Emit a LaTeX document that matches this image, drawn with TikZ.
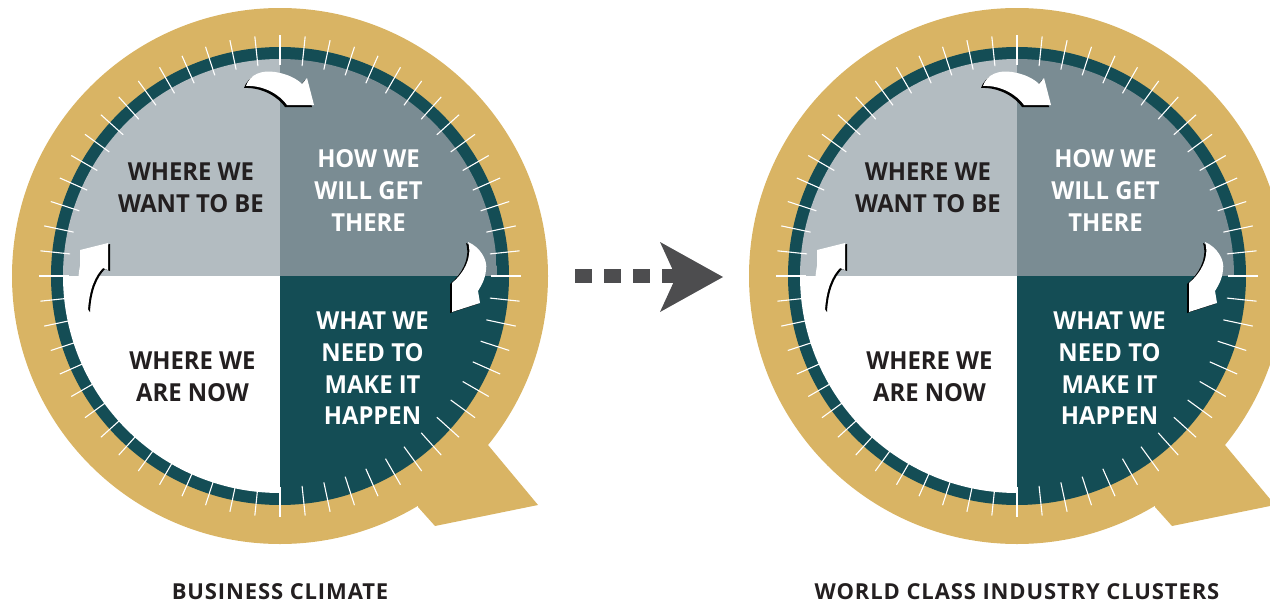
\documentclass[tikz,border=0pt]{standalone}
\usepackage{fontspec}
\setmainfont{Open Sans}
\newfontfamily\qmainfont[FakeStretch=0.96]{Open Sans}
\newfontfamily\qcapfont[LetterSpace=4]{Open Sans}
\definecolor{qgold}{HTML}{D9B464}
\definecolor{qteal}{HTML}{144D55}
\definecolor{qlight}{HTML}{B3BCC1}
\definecolor{qmid}{HTML}{7A8C93}
\definecolor{qtext}{HTML}{231F20}
\definecolor{qarrow}{HTML}{4D4D4F}
\tikzset{
  qlabel/.style={align=center, inner sep=0pt, font=\qmainfont\fontsize{24.8}{31.6}\selectfont\bfseries},
  qcaption/.style={inner sep=0pt, text=qtext, font=\qcapfont\fontsize{22}{24}\selectfont\bfseries},
  qtick/.style={white, line width=1.1pt},
  qshadow/.style={fill=black},
  qcurl/.style={fill=white}
}
\newcommand\qwheel[2]{%
\begin{scope}[shift={(#1,0)}]
  \coordinate (#2c) at (280,276);
  % gold disc with tail
  \fill[qgold] (#2c) circle (268);
  \fill[qgold] (488,445) -- (538,505) -- (435,526) -- (418,507) -- (420,420) -- cycle;
  % teal ring
  \fill[qteal] (#2c) circle (229);
  % quadrants
  \begin{scope}
    \clip (#2c) circle (217);
    \fill[qlight] (63,59) rectangle (280,276);
    \fill[qmid] (280,59) rectangle (497,276);
    \fill[qteal] (280,276) rectangle (497,493);
    \fill[white] (63,276) rectangle (280,493);
  \end{scope}
  % ticks
  \foreach \a in {0,6,...,354}
    \draw[qtick] (#2c) ++(\a:211) -- ++(\a:30);
  % curved arrows: top
  \fill[qshadow, shift={(-2,2)}] (246,86) .. controls (250,74) and (262,70) .. (275,72) .. controls (288,74) and (297,79) .. (302,84) -- (307,78) -- (314,105) -- (287,105) .. controls (281,96) and (265,85) .. (246,86) -- cycle;
  \fill[qcurl] (246,86) .. controls (250,74) and (262,70) .. (275,72) .. controls (288,74) and (297,79) .. (302,84) -- (307,78) -- (314,105) -- (287,105) .. controls (281,96) and (265,85) .. (246,86) -- cycle;
  % right
  \fill[qshadow, shift={(-2,1)}] (468,242) .. controls (480,247) and (488,260) .. (486,270) .. controls (485,280) and (481,286) .. (478,291) -- (480,303) -- (452,312) -- (452,283) .. controls (463,274) and (473,258) .. (468,242) -- cycle;
  \fill[qcurl] (468,242) .. controls (480,247) and (488,260) .. (486,270) .. controls (485,280) and (481,286) .. (478,291) -- (480,303) -- (452,312) -- (452,283) .. controls (463,274) and (473,258) .. (468,242) -- cycle;
  % left
  \fill[qshadow, shift={(2,1)}] (80,250) -- (108,243) -- (108,270) -- (103,268) .. controls (95,276) and (89,290) .. (88,311) .. controls (80,302) and (76,285) .. (80,266) -- cycle;
  \fill[qcurl] (80,250) -- (108,243) -- (108,270) -- (103,268) .. controls (95,276) and (89,290) .. (88,311) .. controls (80,302) and (76,285) .. (80,266) -- cycle;
  % labels
  \node[qlabel, text=qtext] (#2want) at (191,187.5) {WHERE WE\\WANT TO BE};
  \node[qlabel, text=white] (#2how) at (368.5,190.5) {HOW WE\\WILL GET\\THERE};
  \node[qlabel, text=qtext] (#2now) at (192.5,376.5) {WHERE WE\\ARE NOW};
  \node[qlabel, text=white] (#2need) at (372.5,368.5) {WHAT WE\\NEED TO\\MAKE IT\\HAPPEN};
\end{scope}}
\begin{document}
\begin{tikzpicture}[x=1pt,y=-1pt]
  \useasboundingbox (0,0) rectangle (1270,605);
  \clip (0,0) rectangle (1270,605);
  \qwheel{0}{L}
  \qwheel{737}{R}
  \node[qcaption] (Lcap) at (280,592) {BUSINESS CLIMATE};
  \node[qcaption] (Rcap) at (1017,592) {WORLD CLASS INDUSTRY CLUSTERS};
  % dotted arrow between the wheels
  \coordinate (dstart) at (575,276);
  \coordinate (dend) at (680,276);
  \draw[qarrow, line width=14pt, dash pattern=on 17pt off 12pt] (dstart) -- (dend);
  \fill[qarrow] (660,242) -- (723,277) -- (660,312) -- (676,277) -- cycle;
\end{tikzpicture}
\end{document}
